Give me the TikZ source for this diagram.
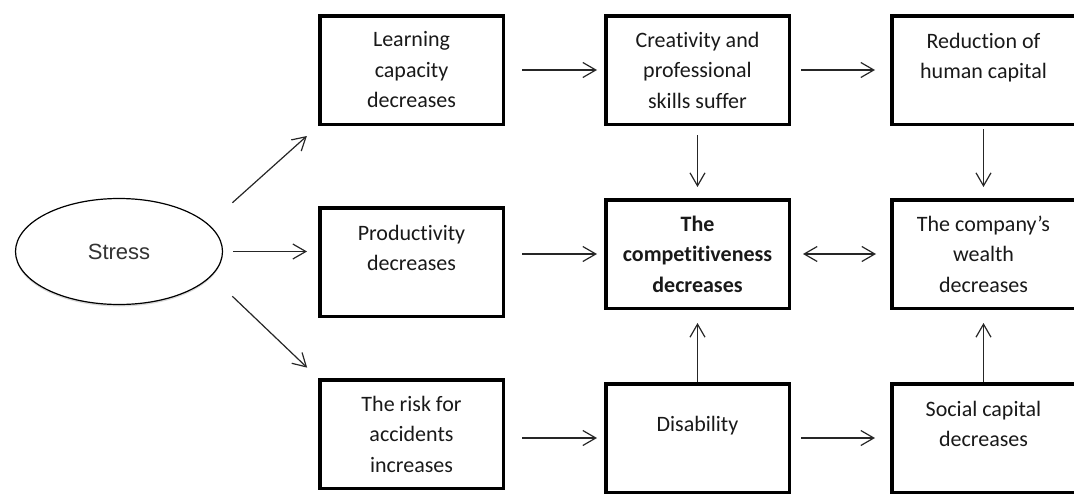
\documentclass[tikz,border=0pt]{standalone}
\usepackage{fontspec}
\setmainfont{Carlito}[Ligatures=NoCommon, RawFeature={-calt}]
\newfontfamily\arialfont{Liberation Sans}
\usepackage{xcolor}
\usetikzlibrary{positioning,arrows.meta,shapes.geometric,shadows}
\tikzstyle{block} = [draw, rectangle, line width=3.5pt, minimum width=183.5pt, minimum height=108.5pt,
	align=center, inner sep=2pt, text=black!90, font=\fontsize{22}{30.5}\selectfont]
\tikzstyle{boldblock} = [block, font=\fontsize{22}{30.5}\selectfont\bfseries]
\tikzstyle{lifted} = [text depth=28pt]
\tikzstyle{stressnode} = [draw, ellipse, line width=1.2pt, minimum width=207pt, minimum height=106pt,
	fill=white, text=black!80, font=\arialfont\fontsize{22}{26}\selectfont,
	drop shadow={shadow xshift=0pt, shadow yshift=-2pt, opacity=0.3}]
\tikzstyle{arr} = [-{Straight Barb[length=13pt,width=15pt]}, line width=1.2pt, black!85]
\tikzstyle{darr} = [{Straight Barb[length=13pt,width=15pt]}-{Straight Barb[length=13pt,width=15pt]}, line width=1.2pt, black!85]

\begin{document}
\begin{tikzpicture}[x=1pt, y=-1pt, node distance=99pt]
		\useasboundingbox (0,0) rectangle (1074,498);
		\node[stressnode] (stress) at (119,251.5) {Stress};		% Ellipse links
		\node[block] (learn) at (411.5,70) {Learning\\capacity\\decreases};
		\node[block, lifted, below=80pt of learn] (prod) {Productivity\\decreases};
		\node[block, below=60pt of prod] (risk) {The risk for\\accidents\\increases};
		\node[block, right=of learn] (creat) {Creativity and\\professional\\skills suffer};
		\node[boldblock, below=72pt of creat] (comp) {The\\competitiveness\\decreases};	% Mitte
		\node[block, lifted, below=72pt of comp] (dis) {Disability};
		\node[block, lifted, right=of creat] (human) {Reduction of\\human capital};
		\node[block, right=of comp] (wealth) {The company's\\wealth\\decreases};
		\node[block, lifted, right=of dis] (social) {Social capital\\decreases};
		
		% arrows from stress
		\draw[arr, shorten <=32pt, shorten >=15pt] (stress.17) -- (learn.south west);
		\draw[arr, shorten <=10pt, shorten >=11pt] (stress.east) -- (stress.east -| prod.west);
		\draw[arr, shorten <=29pt, shorten >=15pt] (stress.-15) -- (risk.north west);
		
		% rows
		\draw[arr, shorten <=17pt, shorten >=7pt] (learn) -- (creat);
		\draw[arr, shorten <=10pt, shorten >=15pt] (creat) -- (human);
		\draw[arr, shorten <=17pt, shorten >=7pt] (prod.east |- comp) -- (comp);
		\draw[darr, shorten <=12pt, shorten >=14pt] (comp) -- (wealth);
		\draw[arr, shorten <=17pt, shorten >=7pt] (risk.east |- dis) -- (dis);
		\draw[arr, shorten <=10pt, shorten >=15pt] (dis) -- (social);
		
		% columns
		\draw[arr, shorten <=9pt, shorten >=11pt] (creat) -- (comp);
		\draw[arr, shorten <=3pt, shorten >=11pt] (human) -- (wealth);
		\draw[arr, shorten >=13pt] (dis) -- (comp);
		\draw[arr, shorten >=13pt] (social) -- (wealth);
\end{tikzpicture}
\end{document}
